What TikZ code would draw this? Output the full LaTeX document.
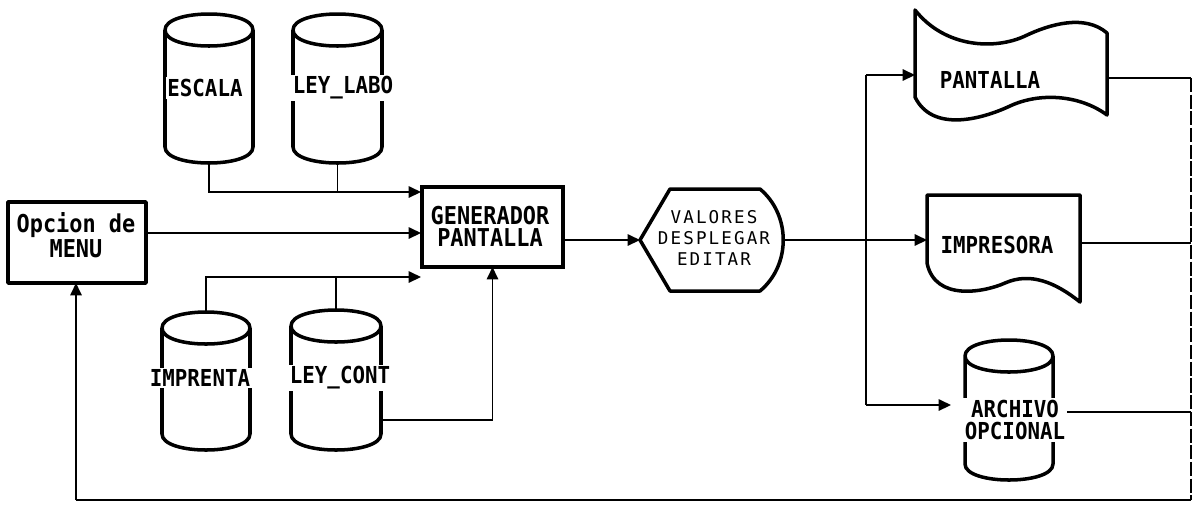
\documentclass[tikz,border=0pt]{standalone}
\usepackage{fontspec}
\newfontfamily\dm[FakeStretch=0.89]{DejaVu Sans Mono}
\newfontfamily\dmv[LetterSpace=12]{DejaVu Sans Mono}
\usetikzlibrary{arrows.meta}
\tikzset{
  conn/.style={line width=0.8pt, draw=black},
  arr/.style={conn, -{Triangle[length=7pt,width=6.5pt]}},
  brk/.style={conn, dash pattern=on 8pt off 1.5pt},
  shapeline/.style={line width=2pt, line join=round},
  lbl/.style={font=\dm\bfseries\fontsize{13.3}{12.5}\selectfont, inner sep=1pt, fill=white, align=center},
  vlbl/.style={font=\dmv\fontsize{10}{11.7}\selectfont, inner sep=1pt, align=center},
  hold/.style={inner sep=0pt, outer sep=0pt}
}
\newcommand\dbcyl[5]{%
  \draw[shapeline] (#2,#4+16) .. controls (#2,#4-5.33) and (#3,#4-5.33) .. (#3,#4+16)
     .. controls (#3,#4+37.33) and (#2,#4+37.33) .. (#2,#4+16) -- (#2,#5-16)
     .. controls (#2,#5+5.33) and (#3,#5+5.33) .. (#3,#5-16) -- (#3,#4+16);
  \node[hold, minimum width={(#3-#2)*0.02cm}, minimum height={(#5-#4)*0.02cm}] (#1) at ({(#2+#3)/2},{(#4+#5)/2}) {};
}
\begin{document}
\begin{tikzpicture}[x=0.02cm, y=-0.02cm]
\useasboundingbox (0,0) rectangle (1199,512);

% cylinders
\dbcyl{esc}{165}{253}{14}{163}
\dbcyl{lab}{293}{382}{14}{163}
\dbcyl{imp}{162}{250}{312}{450}
\dbcyl{lcont}{291}{381}{310}{450}
\dbcyl{arch}{965}{1053}{340}{480}

\node[lbl] (escL) at (205,88) {ESCALA};
\node[lbl] (labL) at (343,88) {LEY\_LABO};
\node[lbl] (impL) at (200,378) {IMPRENTA};
\node[lbl] (lcontL) at (340,378) {LEY\_CONT};
\node[lbl] (archL) at (1015,420) {ARCHIVO\\OPCIONAL};

% menu box
\node[draw, shapeline, hold, minimum width=138*0.02cm, minimum height=81*0.02cm] (menu) at (77,242.5) {};
\node[lbl, fill=none, font=\dm\bfseries\fontsize{14}{12.5}\selectfont] (menuL) at (76,235) {Opcion de\\MENU};

% generator box
\node[draw, hold, line width=2.6pt, minimum width=141*0.02cm, minimum height=80*0.02cm] (gen) at (492.5,227) {};
\node[lbl, fill=none, font=\dm\bfseries\fontsize{14}{12.5}\selectfont] (genL) at (490,226) {GENERADOR\\PANTALLA};

% display hexagon
\draw[shapeline] (640,240) -- (670,189) -- (760,189) .. controls (791,215) and (791,265) .. (760,291) -- (670,291) -- cycle;
\node[hold, minimum width=143*0.02cm, minimum height=102*0.02cm] (val) at (711.5,240) {};
\node[vlbl] (valL) at (714,238) {VALORES\\DESPLEGAR\\EDITAR};

% PANTALLA tape
\draw[shapeline] (915,10) .. controls (945,48) and (995,50) .. (1025,36)
   .. controls (1050,24) and (1085,14) .. (1107,33) -- (1107,115)
   .. controls (1080,95) and (1040,92) .. (1010,106)
   .. controls (980,120) and (932,132) .. (915,97) -- cycle;
\node[hold, minimum width=192*0.02cm, minimum height=118*0.02cm] (pant) at (1011,69) {};
\node[lbl, fill=none, font=\dm\fontsize{13.3}{12.5}\selectfont\bfseries] (pantL) at (990,80) {PANTALLA};

% IMPRESORA document
\draw[shapeline] (927,195) -- (1080,195) -- (1080,302)
   .. controls (1055,282) and (1030,272) .. (1005,283)
   .. controls (985,292) and (935,302) .. (927,263) -- cycle;
\node[hold, minimum width=153*0.02cm, minimum height=107*0.02cm] (impr) at (1003.5,248.5) {};
\node[lbl, fill=none] (imprL) at (997,245) {IMPRESORA};

% coordinates
\coordinate (g1) at (421,192);
\coordinate (g2) at (421,233);
\coordinate (g3) at (421,277);
\coordinate (lc1) at (lcont.east |- 0,420);
\coordinate (jx) at (866,240);
\coordinate (jtop) at (866,75);
\coordinate (jbot) at (866,405);
\coordinate (atip) at (951,405);
\coordinate (r1) at (1191,78);
\coordinate (r2) at (1191,243);
\coordinate (r3) at (1191,412);
\coordinate (rb) at (1191,500);
\coordinate (lb) at (76,500);

% connectors
\draw[arr] (esc.south) |- (g1);
\draw[conn] (lab.south) -- (lab.south |- g1);
\draw[arr] (menu.east |- g2) -- (g2);
\draw[arr] (imp.north) |- (g3);
\draw[conn] (lcont.north) -- (lcont.north |- g3);
\draw[arr] (lc1) -| (gen.south);
\draw[arr] (gen.east |- val.west) -- (val.west);
\draw[conn] (val.east) -- (jx);
\draw[arr] (jx) -- (impr.west |- jx);
\draw[conn] (jtop) -- (jbot);
\draw[arr] (jtop) -- (pant.west |- jtop);
\draw[arr] (jbot) -- (atip);
\draw[conn] (pant.east |- r1) -- (r1);
\draw[conn] (impr.east |- r2) -- (r2);
\draw[conn] (archL.east |- r3) -- (r3);
\draw[brk] (r1) -- (rb);
\draw[conn] (rb) -- (lb);
\draw[arr] (lb) -- (menu.south -| lb);
\end{tikzpicture}
\end{document}
